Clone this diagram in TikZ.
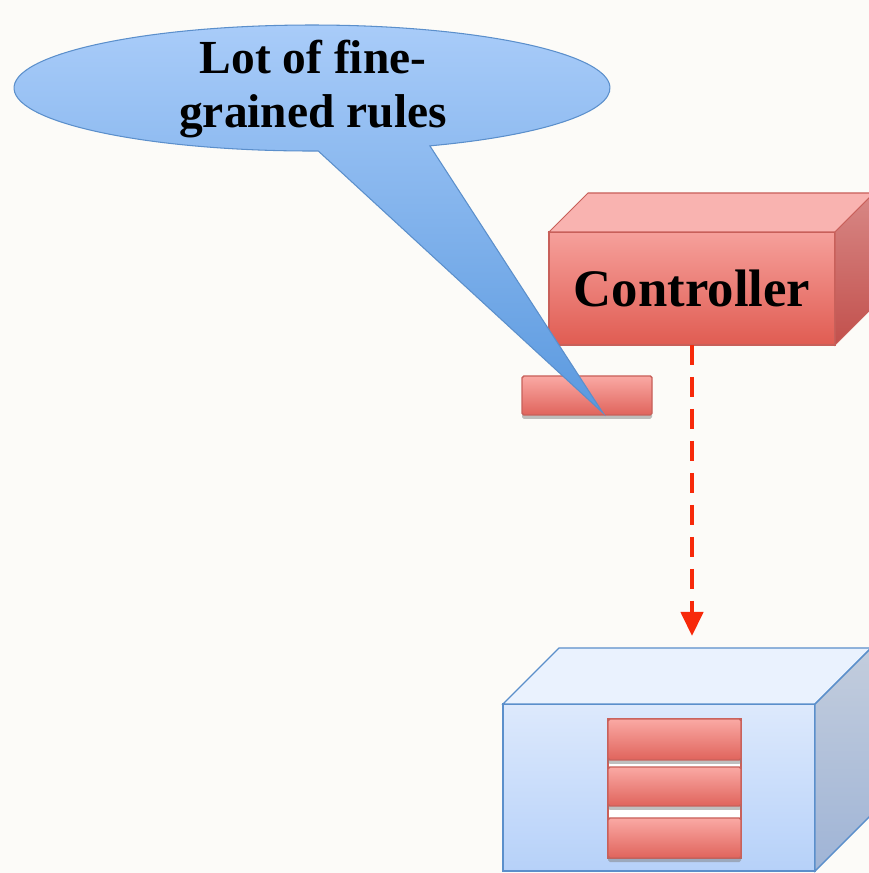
\documentclass[tikz,border=0pt]{standalone}
\usepackage{fontspec}
\setmainfont{Liberation Serif}
\usepackage{tikz}
\usetikzlibrary{shapes,shadows,arrows.meta}

\definecolor{paper}{HTML}{FCFBF8}
\definecolor{blueline}{HTML}{5B8FCB}
\definecolor{bubblehi}{HTML}{A9CCF9}
\definecolor{bubblelo}{HTML}{5A99DF}
\definecolor{redline}{HTML}{C8605A}
\definecolor{redhi}{HTML}{F6A09B}
\definecolor{redlo}{HTML}{E05C52}
\definecolor{redtop}{HTML}{F9B3B0}
\definecolor{redsidehi}{HTML}{D88886}
\definecolor{redsidelo}{HTML}{C2504C}
\definecolor{barhi}{HTML}{FAA9A4}
\definecolor{barlo}{HTML}{E0645C}
\definecolor{pushred}{HTML}{F7290A}
\definecolor{swhi}{HTML}{DDE9FC}
\definecolor{swlo}{HTML}{B6D1F9}
\definecolor{swtop}{HTML}{EAF2FE}
\definecolor{swsidehi}{HTML}{C3CDDD}
\definecolor{swsidelo}{HTML}{9FB4D6}

\tikzstyle{bubble}=[draw=blueline, line width=0.6pt, top color=bubblehi, bottom color=bubblelo]
\tikzstyle{ctrlfront}=[draw=redline, line width=0.6pt, top color=redhi, bottom color=redlo, inner sep=0pt, outer sep=0pt]
\tikzstyle{ctrltop}=[draw=redline, line width=0.6pt, fill=redtop]
\tikzstyle{ctrlside}=[draw=redline, line width=0.6pt, top color=redsidehi, bottom color=redsidelo]
\tikzstyle{swfront}=[draw=blueline, line width=0.8pt, top color=swhi, bottom color=swlo, inner sep=0pt, outer sep=0pt]
\tikzstyle{swlid}=[draw=blueline, line width=0.8pt, fill=swtop]
\tikzstyle{swside}=[draw=blueline, line width=0.8pt, top color=swsidehi, bottom color=swsidelo]
\tikzstyle{rulebar}=[draw=redline, line width=0.8pt, rounded corners=1pt, top color=barhi, bottom color=barlo, inner sep=0pt, outer sep=0pt, drop shadow={shadow xshift=0pt, shadow yshift=-0.08cm, opacity=0.5}]
\tikzstyle{ruletable}=[draw=redline, line width=0.8pt, fill=white, inner sep=0pt, outer sep=0pt]
\tikzstyle{pusharrow}=[draw=pushred, line width=2.4pt, dash pattern=on 0.4cm off 0.24cm, -{Triangle[length=0.48cm,width=0.44cm]}]
\tikzstyle{bigtext}=[font=\fontsize{30}{34}\selectfont\bfseries]
\tikzstyle{calltext}=[font=\fontsize{27}{30.5}\selectfont\bfseries, align=center]

\begin{document}
\begin{tikzpicture}
 	\useasboundingbox (0cm,0cm) rectangle (17.38cm,17.46cm);
 	\fill[paper] (0cm,0cm) rectangle (17.38cm,17.46cm);
 	\clip (0cm,0cm) rectangle (17.38cm,17.46cm);

 	\node[ctrlfront, minimum width=5.72cm, minimum height=2.26cm, bigtext] (ctrl) at (13.84cm,11.69cm) {Controller};
 	\path[ctrltop] (ctrl.north west) -- ++(0.78cm,0.78cm) -- ++(5.72cm,0cm) -- (ctrl.north east) -- cycle;
 	\path[ctrlside] (ctrl.north east) -- ++(0.78cm,0.78cm) -- ++(0cm,-2.26cm) -- (ctrl.south east) -- cycle;

 	\node[rulebar, minimum width=2.60cm, minimum height=0.78cm] (rule) at (11.74cm,9.55cm) {};

 	\path[bubble] (12.06cm,9.20cm) -- (6.365cm,14.44cm)
 		arc[start angle=271.2, end angle=-66.7, x radius=5.96cm, y radius=1.26cm] -- cycle;
 	\node[calltext] (callout) at (6.26cm,15.68cm) {Lot of fine-\\grained rules};

 	\node[swfront, minimum width=6.24cm, minimum height=3.34cm] (switch) at (13.18cm,1.71cm) {};
 	\path[swlid] (switch.north west) -- ++(1.12cm,1.12cm) -- ++(6.24cm,0cm) -- (switch.north east) -- cycle;
 	\path[swside] (switch.north east) -- ++(1.12cm,1.12cm) -- ++(0cm,-3.34cm) -- (switch.south east) -- cycle;

 	\node[ruletable, minimum width=2.66cm, minimum height=2.78cm] (table) at (13.49cm,1.69cm) {};
 	\node[rulebar, minimum width=2.66cm, minimum height=0.82cm] (entry1) at (13.49cm,2.67cm) {};
 	\node[rulebar, minimum width=2.66cm, minimum height=0.78cm] (entry2) at (13.49cm,1.73cm) {};
 	\node[rulebar, minimum width=2.66cm, minimum height=0.80cm] (entry3) at (13.49cm,0.70cm) {};

 	\coordinate (push) at (13.80cm,4.74cm);
 	\draw[pusharrow] (ctrl.south) -- (ctrl.south |- push);
\end{tikzpicture}
\end{document}
